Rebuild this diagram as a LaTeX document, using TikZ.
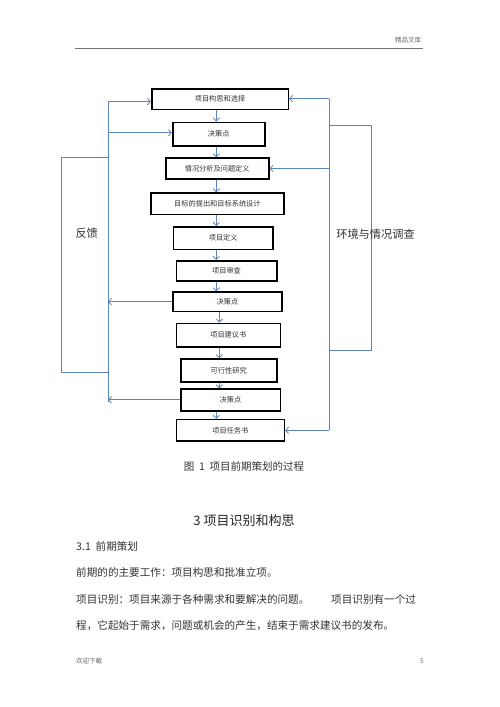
\documentclass[tikz,border=0pt]{standalone}
\usepackage{fontspec}
\newfontfamily\cjk{Noto Sans CJK SC}
\usetikzlibrary{arrows.meta}
\definecolor{flowblue}{HTML}{5B84B8}
\definecolor{txtgray}{HTML}{333333}
\tikzset{
  stepbox/.style={draw=black, line width=1.6pt, inner sep=0pt, font=\cjk\fontsize{7.2}{8}\selectfont, text=txtgray},
  bline/.style={draw=flowblue, line width=0.9pt},
  barr/.style={bline, -{Straight Barb[length=3pt,width=6.5pt,line width=0.8pt]}},
  bodytext/.style={font=\cjk\fontsize{10.6}{12}\selectfont, text=txtgray, anchor=west, inner sep=0pt},
  sidelabel/.style={font=\cjk\fontsize{11.2}{13}\selectfont, text=txtgray, inner sep=0pt},
  smalltext/.style={font=\cjk\fontsize{6.5}{8}\selectfont, text=black!60, inner sep=0pt}
}
\begin{document}
\begin{tikzpicture}[x=1pt,y=-1pt]
\useasboundingbox (0,0) rectangle (500,707);
\fill[white] (0,0) rectangle (500,707);

% header and footer
\node[smalltext] (hdr) at (408,40.5) {精品文库};
\coordinate (hl) at (75,48);
\coordinate (hr) at (423,48);
\draw[black!55, line width=0.8pt] (hl) -- (hr);
\node[smalltext, anchor=west] (ftl) at (76,661) {欢迎下载};
\node[smalltext] (ftr) at (422,661) {5};

% boxes
\node[stepbox, minimum width=136.6pt, minimum height=20.3pt] (b1) at (220,99.2) {项目构思和选择};
\node[stepbox, minimum width=92pt, minimum height=23.4pt] (b2) at (218.7,134) {决策点};
\node[stepbox, minimum width=103pt, minimum height=21pt] (b3) at (217.2,168.5) {情况分析及问题定义};
\node[stepbox, minimum width=133.3pt, minimum height=21.3pt] (b4) at (217.4,203.7) {目标的提出和目标系统设计};
\node[stepbox, minimum width=99.7pt, minimum height=22.6pt] (b5) at (223.2,238) {项目定义};
\node[stepbox, minimum width=100.4pt, minimum height=20pt] (b6) at (226.5,270.7) {项目审查};
\node[stepbox, minimum width=108.7pt, minimum height=19.3pt] (b7) at (227.4,301.7) {决策点};
\node[stepbox, minimum width=104pt, minimum height=23.7pt] (b8) at (228.3,335.2) {项目建议书};
\node[stepbox, minimum width=96pt, minimum height=23pt] (b9) at (228.7,370.5) {可行性研究};
\node[stepbox, minimum width=99.6pt, minimum height=21.7pt] (b10) at (230.5,399.9) {决策点};
\node[stepbox, minimum width=108pt, minimum height=21.3pt] (b11) at (230.3,430.3) {项目任务书};

% vertical arrows
\coordinate (ax) at (216.3,0);
\coordinate (ay) at (219.3,0);
\draw[barr] (b1.south -| ax) -- (b2.north -| ax);
\draw[barr] (b2.south -| ax) -- (b3.north -| ax);
\draw[barr] (b3.south -| ax) -- (b4.north -| ax);
\draw[barr] (b4.south -| ax) -- (b5.north -| ax);
\draw[barr] (b5.south -| ax) -- (b6.north -| ax);
\draw[barr] (b6.south -| ax) -- (b7.north -| ax);
\draw[barr] (b7.south -| ay) -- (b8.north -| ay);
\draw[barr] (b8.south -| ay) -- (b9.north -| ay);
\draw[barr] (b9.south -| ay) -- (b10.north -| ay);
\draw[barr] (b10.south -| ax) -- (b11.north -| ax);

% left feedback
\coordinate (lt) at (108,101.7);
\coordinate (l2) at (108,132.7);
\coordinate (lb) at (108,401.7);
\coordinate (lo1) at (108,157.7);
\coordinate (lo2) at (61.7,157.7);
\coordinate (lo3) at (61.7,372.7);
\coordinate (lo4) at (108,372.7);
\draw[bline] (lt) -- (lb);
\draw[barr] (lt) -- (lt -| b1.west);
\draw[barr] (l2) -- (l2 -| b2.west);
\draw[barr] (b7.west) -- (b7.west -| lt);
\draw[barr] (b10.west) -- (b10.west -| lt);
\draw[bline] (lo1) -- (lo2) -- (lo3) -- (lo4);
\node[sidelabel] (fk) at (86.7,233) {反馈};

% right environment survey
\coordinate (rt) at (329.3,98.6);
\coordinate (rb) at (329.3,430.3);
\coordinate (r3) at (329.3,168.5);
\coordinate (ro1) at (329.3,125.7);
\coordinate (ro2) at (371.7,125.7);
\coordinate (ro3) at (371.7,350.7);
\coordinate (ro4) at (329.3,350.7);
\draw[bline] (rt) -- (rb);
\draw[barr] (rt) -- (rt -| b1.east);
\draw[barr] (r3) -- (b3.east);
\draw[barr] (rb) -- (b11.east);
\draw[bline] (ro1) -- (ro2) -- (ro3) -- (ro4);
\node[sidelabel] (env) at (375.5,234) {环境与情况调查};

% caption and text
\node[font=\cjk\fontsize{10.5}{12}\selectfont, text=txtgray, inner sep=0pt] (cap) at (244,466.7) {图\ \ 1\ \ 项目前期策划的过程};
\node[font=\cjk\fontsize{13}{15}\selectfont, text=black!85, inner sep=0pt] (h3) at (244,520.7) {3 项目识别和构思};
\node[bodytext] (t1) at (76,546.7) {3.1\ \ 前期策划};
\node[bodytext] (t2) at (76,572.7) {前期的的主要工作：项目构思和批准立项。};
\node[bodytext] (t3a) at (76,599.3) {项目识别：项目来源于各种需求和要解决的问题。};
\node[bodytext] (t3b) at (331,599.3) {项目识别有一个过};
\node[bodytext] (t4) at (76,626) {程，它起始于需求，问题或机会的产生，结束于需求建议书的发布。};
\end{tikzpicture}
\end{document}
